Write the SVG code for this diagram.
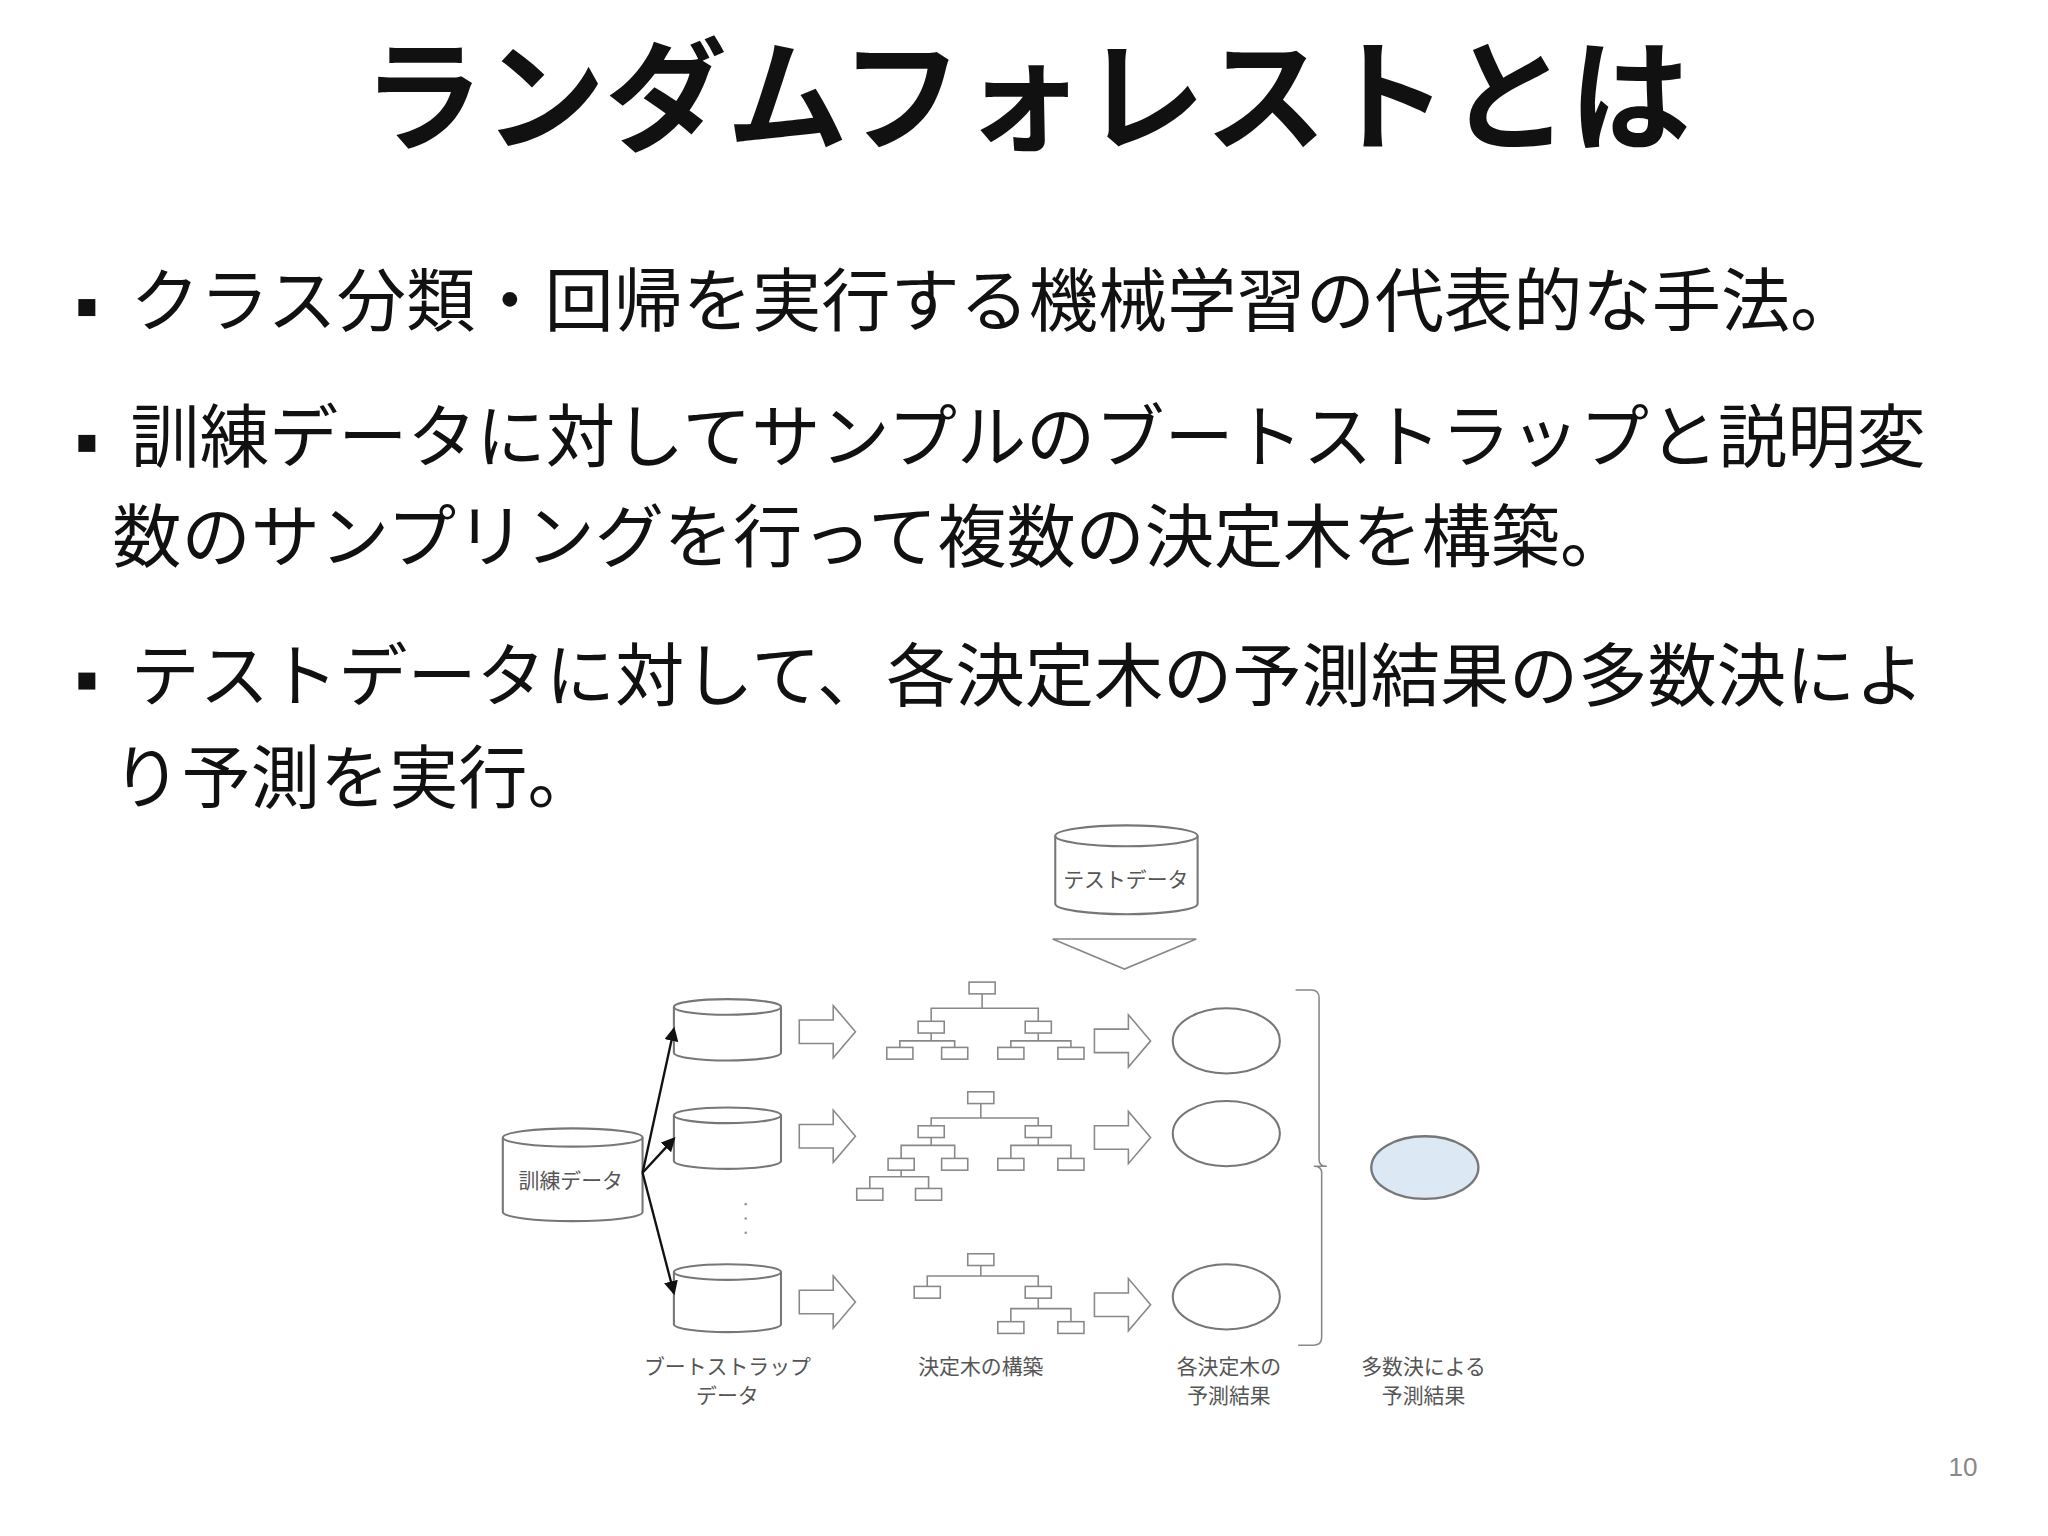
<svg xmlns="http://www.w3.org/2000/svg" width="2048" height="1536" viewBox="0 0 2048 1536">
<style>
.t{font-family:"Noto Sans CJK JP","Liberation Sans",sans-serif;fill:#111}
.s{font-family:"Noto Sans CJK JP","Liberation Sans",sans-serif;fill:#555;font-size:16px;text-anchor:middle}
.o{fill:#fff;stroke:#777;stroke-width:1.6}
.b{fill:#fff;stroke:#888;stroke-width:1.2}
.l{fill:none;stroke:#888;stroke-width:1.2}
</style>
<rect width="2048" height="1536" fill="#fff"/>
<g transform="scale(1.306)">
<g id="title"><text class="t" x="786" y="108" font-size="93" font-weight="bold" text-anchor="middle">ランダムフォレストとは</text></g>
<g id="bullets" font-size="53">
<rect x="60" y="229" width="13" height="13" fill="#111"/>
<text class="t" x="100" y="250">クラス分類・回帰を実行する機械学習の代表的な手法。</text>
<rect x="60" y="333" width="13" height="13" fill="#111"/>
<text class="t" x="100" y="354">訓練データに対してサンプルのブートストラップと説明変</text>
<text class="t" x="86" y="430">数のサンプリングを行って複数の決定木を構築。</text>
<rect x="60" y="515" width="13" height="13" fill="#111"/>
<text class="t" x="100" y="537">テストデータに対して、各決定木の予測結果の多数決によ</text>
<text class="t" x="86" y="615">り予測を実行。</text>
</g>
<g id="test-data">
<path class="o" d="M808,640 v52 a54.5,8 0 0 0 109,0 v-52"/>
<ellipse class="o" cx="862.5" cy="640" rx="54.5" ry="8"/>
<text class="s" x="862" y="679" font-size="15">テストデータ</text>
</g>
<g id="test-arrow"><path class="l" d="M806,719 H916 L861,742 Z" stroke-width="1.4"/></g>
<g id="train-data">
<path class="o" d="M385,871 v57 a53.5,7 0 0 0 107,0 v-57"/>
<ellipse class="o" cx="438.5" cy="871" rx="53.5" ry="7"/>
<text class="s" x="437" y="910" font-size="16" fill="#333">訓練データ</text>
</g>
<g id="boot1"><path class="o" d="M516,771 v35 a41,6 0 0 0 82,0 v-35"/><ellipse class="o" cx="557" cy="771" rx="41" ry="6"/></g>
<g id="boot2"><path class="o" d="M516,854 v35 a41,6 0 0 0 82,0 v-35"/><ellipse class="o" cx="557" cy="854" rx="41" ry="6"/></g>
<g id="boot3"><path class="o" d="M516,974 v40 a41,6 0 0 0 82,0 v-40"/><ellipse class="o" cx="557" cy="974" rx="41" ry="6"/></g>
<g id="dots" fill="#999"><circle cx="571" cy="922" r="1"/><circle cx="571" cy="933" r="1"/><circle cx="571" cy="944" r="1"/></g>
<g id="connectors">
<defs><marker id="a" markerWidth="6" markerHeight="6" refX="5" refY="3" orient="auto"><path d="M0,0 L6,3 L0,6 Z" fill="#111"/></marker></defs>
<g stroke="#111" stroke-width="1.8" fill="none" marker-end="url(#a)">
<line x1="492" y1="898" x2="516" y2="788"/>
<line x1="492" y1="898" x2="516" y2="872"/>
<line x1="492" y1="898" x2="516" y2="990"/>
</g>
<g class="l" stroke-width="1.5">
<path d="M612,781 h26 v-11 l17,20 l-17,20 v-11 h-26 Z"/>
<path d="M612,861 h26 v-11 l17,20 l-17,20 v-11 h-26 Z"/>
<path d="M612,988 h26 v-11 l17,20 l-17,20 v-11 h-26 Z"/>
<path d="M838,788 h26 v-11 l17,20 l-17,20 v-11 h-26 Z"/>
<path d="M838,862 h26 v-11 l17,20 l-17,20 v-11 h-26 Z"/>
<path d="M838,990 h26 v-11 l17,20 l-17,20 v-11 h-26 Z"/>
</g>
<path class="l" stroke-width="1.5" d="M992,758 h12 q6,0 6,6 v124 q0,5 6,5 h-10 q6,0 6,5 v126 q0,6 -6,6 h-12"/>
</g>
<g id="tree1">
<path class="l" d="M752,761 v11 M713,782 v-10 h82 v10 M713,791 v6 M689,802 v-5 h42 v5 M795,791 v6 M774,802 v-5 h46 v5"/>
<rect class="b" x="742" y="752" width="20" height="9"/>
<rect class="b" x="703" y="782" width="20" height="9"/><rect class="b" x="785" y="782" width="20" height="9"/>
<rect class="b" x="679" y="802" width="20" height="9"/><rect class="b" x="721" y="802" width="20" height="9"/>
<rect class="b" x="764" y="802" width="20" height="9"/><rect class="b" x="810" y="802" width="20" height="9"/>
</g>
<g id="tree2">
<path class="l" d="M751,845 v11 M713,862 v-6 h82 v6 M713,871 v6 M690,887 v-10 h41 v10 M795,871 v6 M774,887 v-10 h46 v10 M690,896 v5 M666,910 v-9 h45 v9"/>
<rect class="b" x="741" y="836" width="20" height="9"/>
<rect class="b" x="703" y="862" width="20" height="9"/><rect class="b" x="785" y="862" width="20" height="9"/>
<rect class="b" x="680" y="887" width="20" height="9"/><rect class="b" x="721" y="887" width="20" height="9"/>
<rect class="b" x="764" y="887" width="20" height="9"/><rect class="b" x="810" y="887" width="20" height="9"/>
<rect class="b" x="656" y="910" width="20" height="9"/><rect class="b" x="701" y="910" width="20" height="9"/>
</g>
<g id="tree3">
<path class="l" d="M751,969 v8 M710,985 v-8 h85 v8 M795,994 v8 M774,1012 v-10 h46 v10"/>
<rect class="b" x="741" y="960" width="20" height="9"/>
<rect class="b" x="700" y="985" width="20" height="9"/><rect class="b" x="785" y="985" width="20" height="9"/>
<rect class="b" x="764" y="1012" width="20" height="9"/><rect class="b" x="810" y="1012" width="20" height="9"/>
</g>
<g id="res1"><ellipse class="o" cx="939" cy="797" rx="41" ry="25"/></g>
<g id="res2"><ellipse class="o" cx="939" cy="868" rx="41" ry="25"/></g>
<g id="res3"><ellipse class="o" cx="939" cy="993" rx="41" ry="25"/></g>
<g id="final"><ellipse cx="1091" cy="894" rx="41" ry="24" fill="#dde8f5" stroke="#777" stroke-width="1.8"/></g>
<g id="labels">
<text class="s" x="557" y="1052">ブートストラップ</text><text class="s" x="557" y="1074">データ</text>
<text class="s" x="751" y="1052">決定木の構築</text>
<text class="s" x="941" y="1052">各決定木の</text><text class="s" x="941" y="1074">予測結果</text>
<text class="s" x="1090" y="1052">多数決による</text><text class="s" x="1090" y="1074">予測結果</text>
</g>
<g id="page"><text x="1503" y="1130" font-family="Liberation Sans,sans-serif" font-size="20" fill="#888" text-anchor="middle">10</text></g>
</g>
</svg>
